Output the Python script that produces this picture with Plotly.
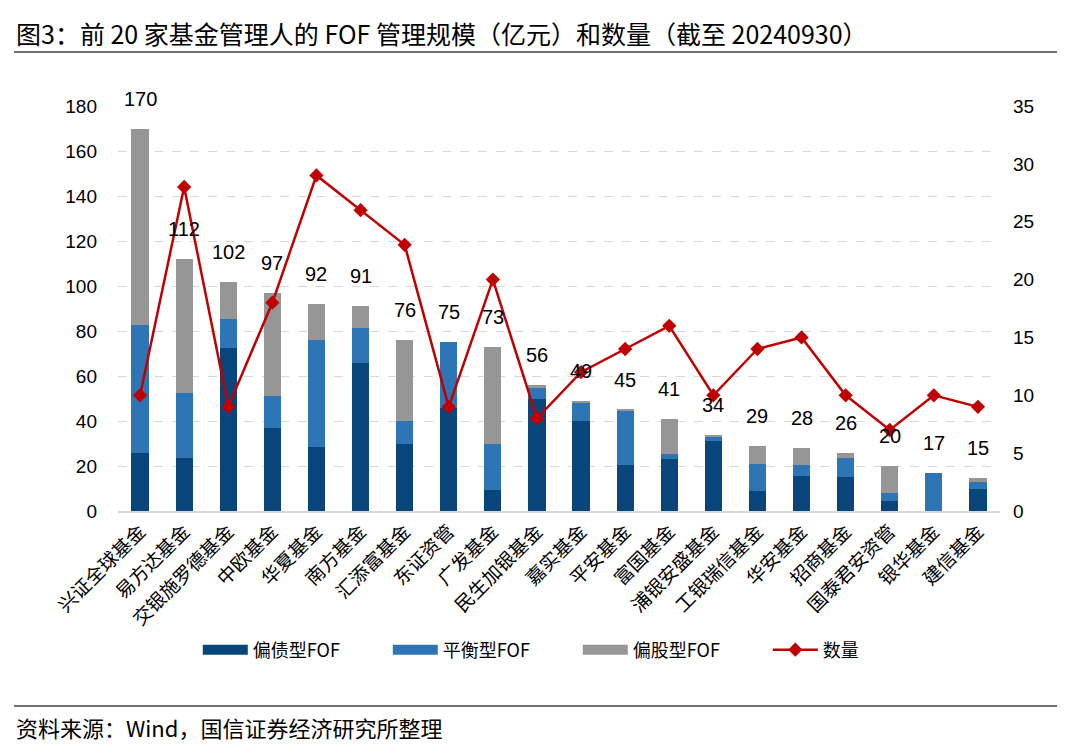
import plotly.graph_objects as go

categories = ["兴证全球基金", "易方达基金", "交银施罗德基金", "中欧基金", "华夏基金", "南方基金",
              "汇添富基金", "东证资管", "广发基金", "民生加银基金", "嘉实基金", "平安基金",
              "富国基金", "浦银安盛基金", "工银瑞信基金", "华安基金", "招商基金", "国泰君安资管",
              "银华基金", "建信基金"]
debt_fof = [26, 23.5, 72.5, 37, 28.5, 66, 30, 46, 9.5, 50, 40, 20.5, 23, 31, 9, 15.5, 15, 4.5, 0, 10]
balanced_fof = [56.5, 29, 13, 14, 47.5, 15.5, 10, 29, 20.5, 4.5, 8, 24, 2.5, 2, 12, 5, 8.5, 3.5, 17, 3]
equity_fof = [87.5, 59.5, 16.5, 46, 16, 9.5, 36, 0, 43, 1.5, 1, 0.5, 15.5, 1, 8, 7.5, 2.5, 12, 0, 1.8]
counts = [10, 28, 9, 18, 29, 26, 23, 9, 20, 8, 12, 14, 16, 10, 14, 15, 10, 7, 10, 9]
left_ticks = [0, 20, 40, 60, 80, 100, 120, 140, 160, 180]
right_ticks = [0, 5, 10, 15, 20, 25, 30, 35]

totals = [a + b + c for a, b, c in zip(debt_fof, balanced_fof, equity_fof)]

FONT = "Arial, Liberation Sans, Noto Sans CJK SC, sans-serif"
CJK = "Noto Sans CJK SC, Arial, sans-serif"

L, R, T, B = 118, 80, 106, 236
PW = 1080 - L - R
PH = 747 - T - B


def px(x):
    return (x - L) / PW


def py(y):
    return (747 - B - y) / PH


series = [("偏债型FOF", debt_fof, "#08457a"),
          ("平衡型FOF", balanced_fof, "#2e75b6"),
          ("偏股型FOF", equity_fof, "#969696")]

fig = go.Figure()
for name, vals, col in series:
    fig.add_trace(go.Bar(x=categories, y=vals, name=name, marker_color=col,
                         marker_line_width=0, legendgroup=name, showlegend=False))
# legend proxies (wide rectangle swatches like the reference)
for name, vals, col in series:
    fig.add_trace(go.Scatter(x=[categories[0]], y=[None], name=name, mode="lines",
                             line=dict(color=col, width=10), legendgroup=name,
                             hoverinfo="skip"))
fig.add_trace(go.Scatter(x=categories, y=counts, name="数量", yaxis="y2", mode="lines+markers",
                         line=dict(color="#c00000", width=2.5),
                         marker=dict(symbol="diamond", size=11, color="#c00000")))

annotations = []
for c, t in zip(categories, totals):
    annotations.append(dict(x=c, y=t, xref="x", yref="y", text=f"{t:.0f}", showarrow=False,
                            yanchor="bottom", yshift=17, font=dict(size=20, color="#000000", family=FONT)))

annotations.append(dict(x=px(14), y=py(33), xref="paper", yref="paper", xanchor="left", yanchor="middle",
                        text="图3：前 20 家基金管理人的 FOF 管理规模（亿元）和数量（截至 20240930）",
                        showarrow=False, font=dict(size=25, color="#000000", family=CJK)))
annotations.append(dict(x=px(14), y=py(727), xref="paper", yref="paper", xanchor="left", yanchor="middle",
                        text="资料来源：Wind，国信证券经济研究所整理",
                        showarrow=False, font=dict(size=22, color="#000000", family=CJK)))

shapes = [
    dict(type="line", xref="paper", yref="paper", x0=px(14), x1=px(1057), y0=py(52), y1=py(52),
         line=dict(color="#404040", width=1.5)),
    dict(type="line", xref="paper", yref="paper", x0=px(14), x1=px(1057), y0=py(706), y1=py(706),
         line=dict(color="#404040", width=1.5)),
]

fig.update_layout(
    width=1080, height=747, autosize=False,
    margin=dict(l=L, r=R, t=T, b=B, autoexpand=False),
    paper_bgcolor="white", plot_bgcolor="white",
    barmode="stack", bargap=0.61,
    font=dict(family=FONT, size=19, color="#000000"),
    xaxis=dict(tickangle=-45, tickfont=dict(size=19, family=CJK), showline=True, automargin=False,
               range=[-0.5, len(categories) - 0.5], autorange=False,
               linecolor="#d9d9d9", linewidth=1.5, ticks="", showgrid=False),
    yaxis=dict(range=[0, 180], tickvals=left_ticks, showgrid=True, gridcolor="#d9d9d9",
               griddash="dash", gridwidth=1.2, zeroline=False, tickfont=dict(size=19),
               ticks="", showline=False, automargin=False, ticklabelstandoff=20),
    yaxis2=dict(range=[0, 35], tickvals=right_ticks, overlaying="y", side="right", automargin=False,
                showgrid=False, zeroline=False, tickfont=dict(size=19), ticks="",
                ticklabelstandoff=12),
    legend=dict(orientation="h", x=0.535, xanchor="center", xref="container",
                y=1 - 650 / 747, yanchor="middle", yref="container",
                font=dict(size=18, family=CJK), traceorder="normal", itemwidth=45, entrywidth=130),
    annotations=annotations, shapes=shapes,
)

fig.write_html("out.html", config={"displayModeBar": False},
               post_script="document.body.style.margin='0px';")
